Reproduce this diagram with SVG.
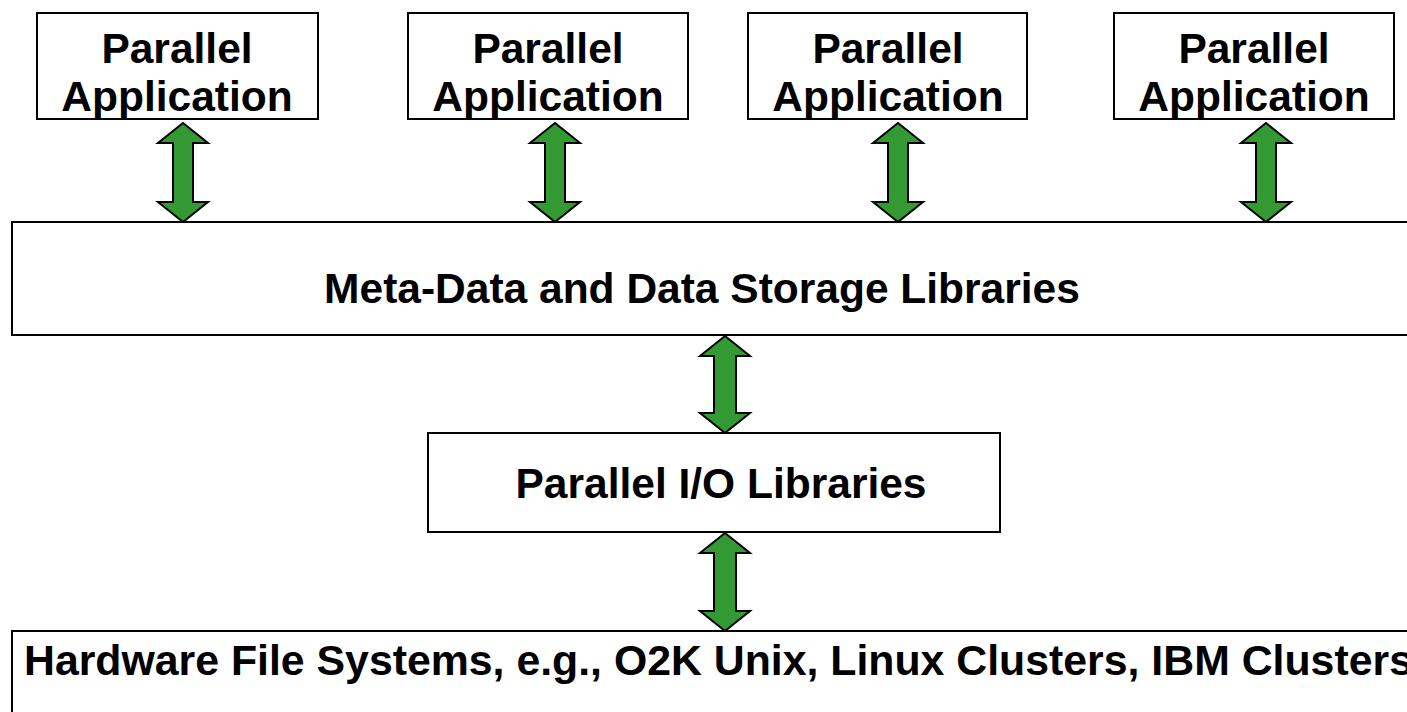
<svg xmlns="http://www.w3.org/2000/svg" width="1407" height="712" viewBox="0 0 1407 712">
<style>
.box{fill:#fff;stroke:#000;stroke-width:2}
.t{font-family:"Liberation Sans",Arial,sans-serif;font-weight:bold;font-size:42.5px;fill:#000}
.c{text-anchor:middle}
.arr{fill:#339933;stroke:#000;stroke-width:2;stroke-linejoin:miter}
</style>
<rect width="1407" height="712" fill="#fff"/>
<g id="connectors">
<polygon class="arr" points="183,123 208,143 193,143 193,202 208,202 183,222 158,202 173,202 173,143 158,143"/>
<polygon class="arr" points="555,123 580,143 565,143 565,202 580,202 555,222 530,202 545,202 545,143 530,143"/>
<polygon class="arr" points="898,123 923,143 908,143 908,202 923,202 898,222 873,202 888,202 888,143 873,143"/>
<polygon class="arr" points="1266,123 1291,143 1276,143 1276,202 1291,202 1266,222 1241,202 1256,202 1256,143 1241,143"/>
<polygon class="arr" points="725,336 750,356 736,356 736,413 750,413 725,433 700,413 714,413 714,356 700,356"/>
<polygon class="arr" points="725,533 750,553 736,553 736,611 750,611 725,631 700,611 714,611 714,553 700,553"/>
</g>
<g id="app1"><rect class="box" x="37" y="13" width="281" height="106"/><text class="t c" x="177" y="63">Parallel</text><text class="t c" x="177" y="111">Application</text></g>
<g id="app2"><rect class="box" x="408" y="13" width="280" height="106"/><text class="t c" x="548" y="63">Parallel</text><text class="t c" x="548" y="111">Application</text></g>
<g id="app3"><rect class="box" x="748" y="13" width="279" height="106"/><text class="t c" x="888" y="63">Parallel</text><text class="t c" x="888" y="111">Application</text></g>
<g id="app4"><rect class="box" x="1114" y="13" width="280" height="106"/><text class="t c" x="1254" y="63">Parallel</text><text class="t c" x="1254" y="111">Application</text></g>
<g id="meta"><rect class="box" x="12" y="222" width="1410" height="113"/><text class="t c" x="702" y="303">Meta-Data and Data Storage Libraries</text></g>
<g id="pio"><rect class="box" x="428" y="433" width="572" height="99"/><text class="t c" x="721" y="498">Parallel I/O Libraries</text></g>
<g id="hw"><rect class="box" x="12" y="631" width="1410" height="100"/><text class="t" x="24" y="675" style="font-size:42.8px">Hardware File Systems, e.g., O2K Unix, Linux Clusters, IBM Clusters</text></g>
</svg>
